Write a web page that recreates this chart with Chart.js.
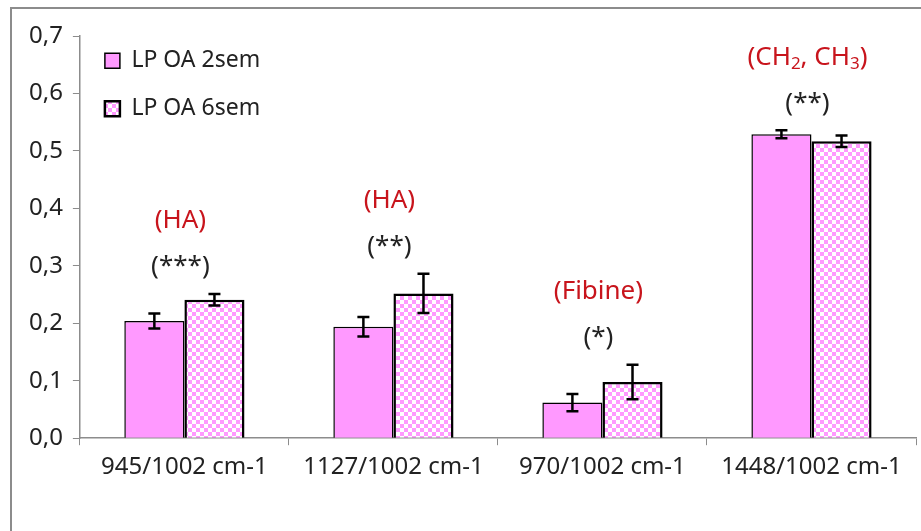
<!DOCTYPE html>
<html>
<head>
<meta charset="utf-8">
<script src="https://cdn.jsdelivr.net/npm/chart.js@4"></script>
<style>
  html, body { margin: 0; padding: 0; background: #fff; overflow: hidden; }
  #wrap { width: 921px; height: 531px; position: relative; }
</style>
</head>
<body>
<div id="wrap"><canvas id="chart" width="921" height="531"></canvas></div>
<script>
// datos
var categorias = ['945/1002 cm-1', '1127/1002 cm-1', '970/1002 cm-1', '1448/1002 cm-1'];
var serie2sem = [0.204, 0.194, 0.062, 0.529];
var serie6sem = [0.241, 0.252, 0.098, 0.517];
var error2sem = [0.013, 0.017, 0.015, 0.007];
var error6sem = [0.010, 0.034, 0.030, 0.010];
var etiquetas = ['(HA)', '(HA)', '(Fibine)', '(CH_2, CH_3)'];
var significancia = ['(***)', '(**)', '(*)', '(**)'];

var FUENTE = "'Noto Sans', 'Open Sans', sans-serif";
var ROSA = '#ff99ff';
var ROJO = '#c8141c';

// patron de cuadros rosa / blanco
function crearPatron() {
  var c = document.createElement('canvas');
  c.width = 8; c.height = 8;
  var g = c.getContext('2d');
  g.fillStyle = '#ffffff';
  g.fillRect(0, 0, 8, 8);
  g.fillStyle = ROSA;
  g.fillRect(0, 0, 4, 4);
  g.fillRect(4, 4, 4, 4);
  return g.createPattern(c, 'repeat');
}

var marco = {
  id: 'marco',
  beforeDraw: function(chart) {
    var ctx = chart.ctx;
    ctx.save();
    ctx.fillStyle = '#fff';
    ctx.fillRect(0, 0, chart.width, chart.height);
    ctx.strokeStyle = '#8c8c8c';
    ctx.lineWidth = 2;
    ctx.strokeRect(11, 8, 1000, 1000);
    ctx.restore();
  }
};

var barrasError = {
  id: 'barrasError',
  afterDatasetsDraw: function(chart) {
    var ctx = chart.ctx;
    var y = chart.scales.y;
    var errores = [error2sem, error6sem];
    ctx.save();
    ctx.strokeStyle = '#000';
    ctx.lineWidth = 2.5;
    chart.data.datasets.forEach(function(ds, d) {
      var meta = chart.getDatasetMeta(d);
      meta.data.forEach(function(bar, i) {
        var v = ds.data[i], e = errores[d][i];
        var yTop = y.getPixelForValue(v + e);
        var yBot = y.getPixelForValue(v - e);
        ctx.beginPath();
        ctx.moveTo(bar.x, yTop); ctx.lineTo(bar.x, yBot);
        ctx.moveTo(bar.x - 6, yTop); ctx.lineTo(bar.x + 6, yTop);
        ctx.moveTo(bar.x - 6, yBot); ctx.lineTo(bar.x + 6, yBot);
        ctx.stroke();
      });
    });
    ctx.restore();
  }
};

// texto con subindices: "_x" baja el caracter x
function textoSub(ctx, txt, cx, cy, size) {
  var partes = [];
  for (var i = 0; i < txt.length; i++) {
    if (txt[i] === '_') { partes.push({ t: txt[i + 1], sub: true }); i++; }
    else partes.push({ t: txt[i], sub: false });
  }
  var ancho = 0;
  partes.forEach(function(p) {
    ctx.font = (p.sub ? Math.round(size * 0.65) : size) + 'px ' + FUENTE;
    p.w = ctx.measureText(p.t).width;
    ancho += p.w;
  });
  var x = cx - ancho / 2;
  ctx.textAlign = 'left';
  partes.forEach(function(p) {
    ctx.font = (p.sub ? Math.round(size * 0.65) : size) + 'px ' + FUENTE;
    ctx.fillText(p.t, x, p.sub ? cy + size * 0.28 : cy);
    x += p.w;
  });
}

var anotaciones = {
  id: 'anotaciones',
  afterDraw: function(chart) {
    var ctx = chart.ctx;
    var xs = chart.scales.x, ys = chart.scales.y;
    ctx.save();
    ctx.textBaseline = 'middle';
    categorias.forEach(function(c, i) {
      var maxTop = Math.max(serie2sem[i] + error2sem[i], serie6sem[i] + error6sem[i]);
      var cx = xs.getPixelForValue(i) - 4;
      var ySig = ys.getPixelForValue(maxTop) - 27;
      ctx.fillStyle = '#222';
      ctx.font = '26px ' + FUENTE;
      ctx.textAlign = 'center';
      ctx.fillText(significancia[i], cx, ySig);
      ctx.fillStyle = ROJO;
      textoSub(ctx, etiquetas[i], cx, ySig - 46, 26);
    });
    ctx.restore();
  }
};

var patron = crearPatron();

new Chart(document.getElementById('chart'), {
  type: 'bar',
  data: {
    labels: categorias,
    datasets: [{
      label: 'LP OA 2sem',
      data: serie2sem,
      backgroundColor: ROSA,
      borderColor: '#000',
      borderWidth: 1.5
    }, {
      label: 'LP OA 6sem',
      data: serie6sem,
      backgroundColor: patron,
      borderColor: '#000',
      borderWidth: 2.5
    }]
  },
  options: {
    responsive: false,
    animation: false,
    devicePixelRatio: 1,
    layout: { padding: { left: 19, right: 5, top: 36, bottom: 41 } },
    datasets: { bar: { categoryPercentage: 0.575, barPercentage: 1.0 } },
    plugins: {
      tooltip: { enabled: false },
      legend: {
        position: 'chartArea',
        align: 'start',
        title: { display: true, text: ' ', font: { size: 1 }, padding: { top: 0, bottom: 23 } },
        labels: {
          color: '#222',
          font: { family: FUENTE, size: 23 },
          boxWidth: 15,
          boxHeight: 15,
          padding: 25
        }
      }
    },
    scales: {
      x: {
        grid: { offset: true, drawOnChartArea: false, drawTicks: true, tickLength: 7, color: '#8c8c8c' },
        border: { color: '#8c8c8c', width: 1.5 },
        ticks: { color: '#222', font: { family: FUENTE, size: 24 }, padding: 8, maxRotation: 0 }
      },
      y: {
        min: 0, max: 0.7,
        grid: { drawOnChartArea: false, drawTicks: true, tickLength: 7, color: '#8c8c8c' },
        border: { color: '#8c8c8c', width: 1.5 },
        ticks: {
          stepSize: 0.1,
          color: '#222',
          font: { family: FUENTE, size: 24 },
          padding: 10,
          callback: function(v) { return v.toFixed(1).replace('.', ','); }
        }
      }
    }
  },
  plugins: [marco, barrasError, anotaciones]
});
</script>
</body>
</html>
